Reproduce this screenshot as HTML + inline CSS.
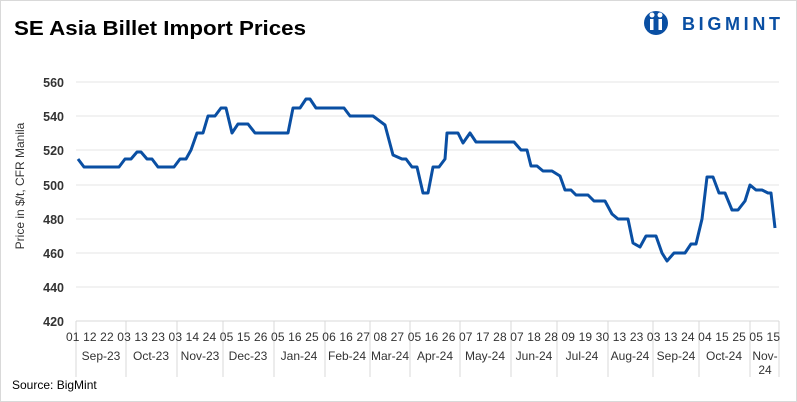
<!DOCTYPE html>
<html><head><meta charset="utf-8"><style>
body{margin:0;background:#fff}
svg{display:block;font-family:"Liberation Sans",sans-serif}
</style></head><body>
<svg width="797" height="402" viewBox="0 0 797 402">
<rect x="0.5" y="0.5" width="796" height="401" fill="#fff" stroke="#d9d9d9"/>
<text x="14" y="35" font-size="20" font-weight="bold" fill="#000" textLength="292" lengthAdjust="spacingAndGlyphs">SE Asia Billet Import Prices</text>
<g fill="#0a4fa3">
<circle cx="656" cy="23" r="12"/>
<circle cx="652" cy="15" r="2.5" fill="#fff"/><circle cx="660" cy="15" r="2.5" fill="#fff"/>
<rect x="650" y="19" width="3.5" height="11" fill="#fff"/><rect x="658.5" y="19" width="3.5" height="11" fill="#fff"/>
<text x="682" y="30" font-size="18" font-weight="bold" textLength="98" lengthAdjust="spacing">BIGMINT</text>
</g>
<g stroke="#e6e6e6" stroke-width="1">
<line x1="76" y1="82" x2="779" y2="82"/><line x1="76" y1="116" x2="779" y2="116"/>
<line x1="76" y1="150" x2="779" y2="150"/><line x1="76" y1="185" x2="779" y2="185"/>
<line x1="76" y1="219" x2="779" y2="219"/><line x1="76" y1="253" x2="779" y2="253"/>
<line x1="76" y1="287" x2="779" y2="287"/>
</g>
<g stroke="#d9d9d9" stroke-width="1">
<line x1="76" y1="321" x2="779" y2="321"/>
<line x1="76" y1="321" x2="76" y2="377"/><line x1="126" y1="321" x2="126" y2="377"/>
<line x1="177" y1="321" x2="177" y2="377"/><line x1="223" y1="321" x2="223" y2="377"/>
<line x1="274" y1="321" x2="274" y2="377"/><line x1="325" y1="321" x2="325" y2="377"/>
<line x1="370" y1="321" x2="370" y2="377"/><line x1="410" y1="321" x2="410" y2="377"/>
<line x1="460" y1="321" x2="460" y2="377"/><line x1="511" y1="321" x2="511" y2="377"/>
<line x1="557" y1="321" x2="557" y2="377"/><line x1="608" y1="321" x2="608" y2="377"/>
<line x1="653" y1="321" x2="653" y2="377"/><line x1="699" y1="321" x2="699" y2="377"/>
<line x1="750" y1="321" x2="750" y2="377"/><line x1="779" y1="321" x2="779" y2="377"/>
</g>
<g font-size="12.5" font-weight="bold" fill="#333" text-anchor="end">
<text x="64" y="87">560</text><text x="64" y="121">540</text><text x="64" y="155">520</text>
<text x="64" y="190">500</text><text x="64" y="224">480</text><text x="64" y="258">460</text>
<text x="64" y="292">440</text><text x="64" y="326">420</text>
</g>
<text transform="translate(24,186) rotate(-90)" font-size="12" fill="#333" text-anchor="middle">Price in $/t, CFR Manila</text>
<text x="66" y="341" font-size="12" fill="#333" textLength="714" lengthAdjust="spacing">01 12 22 03 13 23 03 14 24 05 15 26 05 16 25 06 16 27 08 27 05 16 26 07 17 28 07 18 28 09 19 30 13 23 03 13 24 04 15 25 05 15</text>
<g font-size="12" fill="#333" text-anchor="middle">
<text x="101" y="360">Sep-23</text><text x="151" y="360">Oct-23</text><text x="200" y="360">Nov-23</text>
<text x="248" y="360">Dec-23</text><text x="299" y="360">Jan-24</text><text x="347" y="360">Feb-24</text>
<text x="390" y="360">Mar-24</text><text x="435" y="360">Apr-24</text><text x="485" y="360">May-24</text>
<text x="534" y="360">Jun-24</text><text x="582" y="360">Jul-24</text><text x="630" y="360">Aug-24</text>
<text x="676" y="360">Sep-24</text><text x="724" y="360">Oct-24</text><text x="765" y="360">Nov-</text>
<text x="765" y="374">24</text>
</g>
<text x="12" y="389" font-size="12" fill="#000">Source: BigMint</text>
<polyline fill="none" stroke="#0a4fa3" stroke-width="3" stroke-linejoin="round" points="78,159 84,167 119,167 125,159 131,159 137,152 141,152 147,159 152,159 158,167 174,167 180,159 186,159 191,150 197,133 203,133 208,116 215,116 221,108 226,108 232,133 238,124 248,124 255,133 288,133 293,108 300,108 306,99 310,99 316,108 344,108 350,116 373,116 385,125 393,155 402,159 406,159 412,167 417,167 423,193 428,193 433,167 439,167 445,159 447,133 458,133 463,143 470,133 476,142 514,142 521,150 527,150 531,166 537,166 543,171 552,171 560,176 565,190 571,190 576,195 588,195 594,201 605,201 612,214 618,219 628,219 633,243 640,247 646,236 656,236 662,253 667,261 674,253 685,253 691,244 696,244 702,219 707,177 713,177 719,193 725,193 732,210 738,210 745,201 750,185 756,190 762,190 768,193 771,193 775,228"/>
</svg>
</body></html>
